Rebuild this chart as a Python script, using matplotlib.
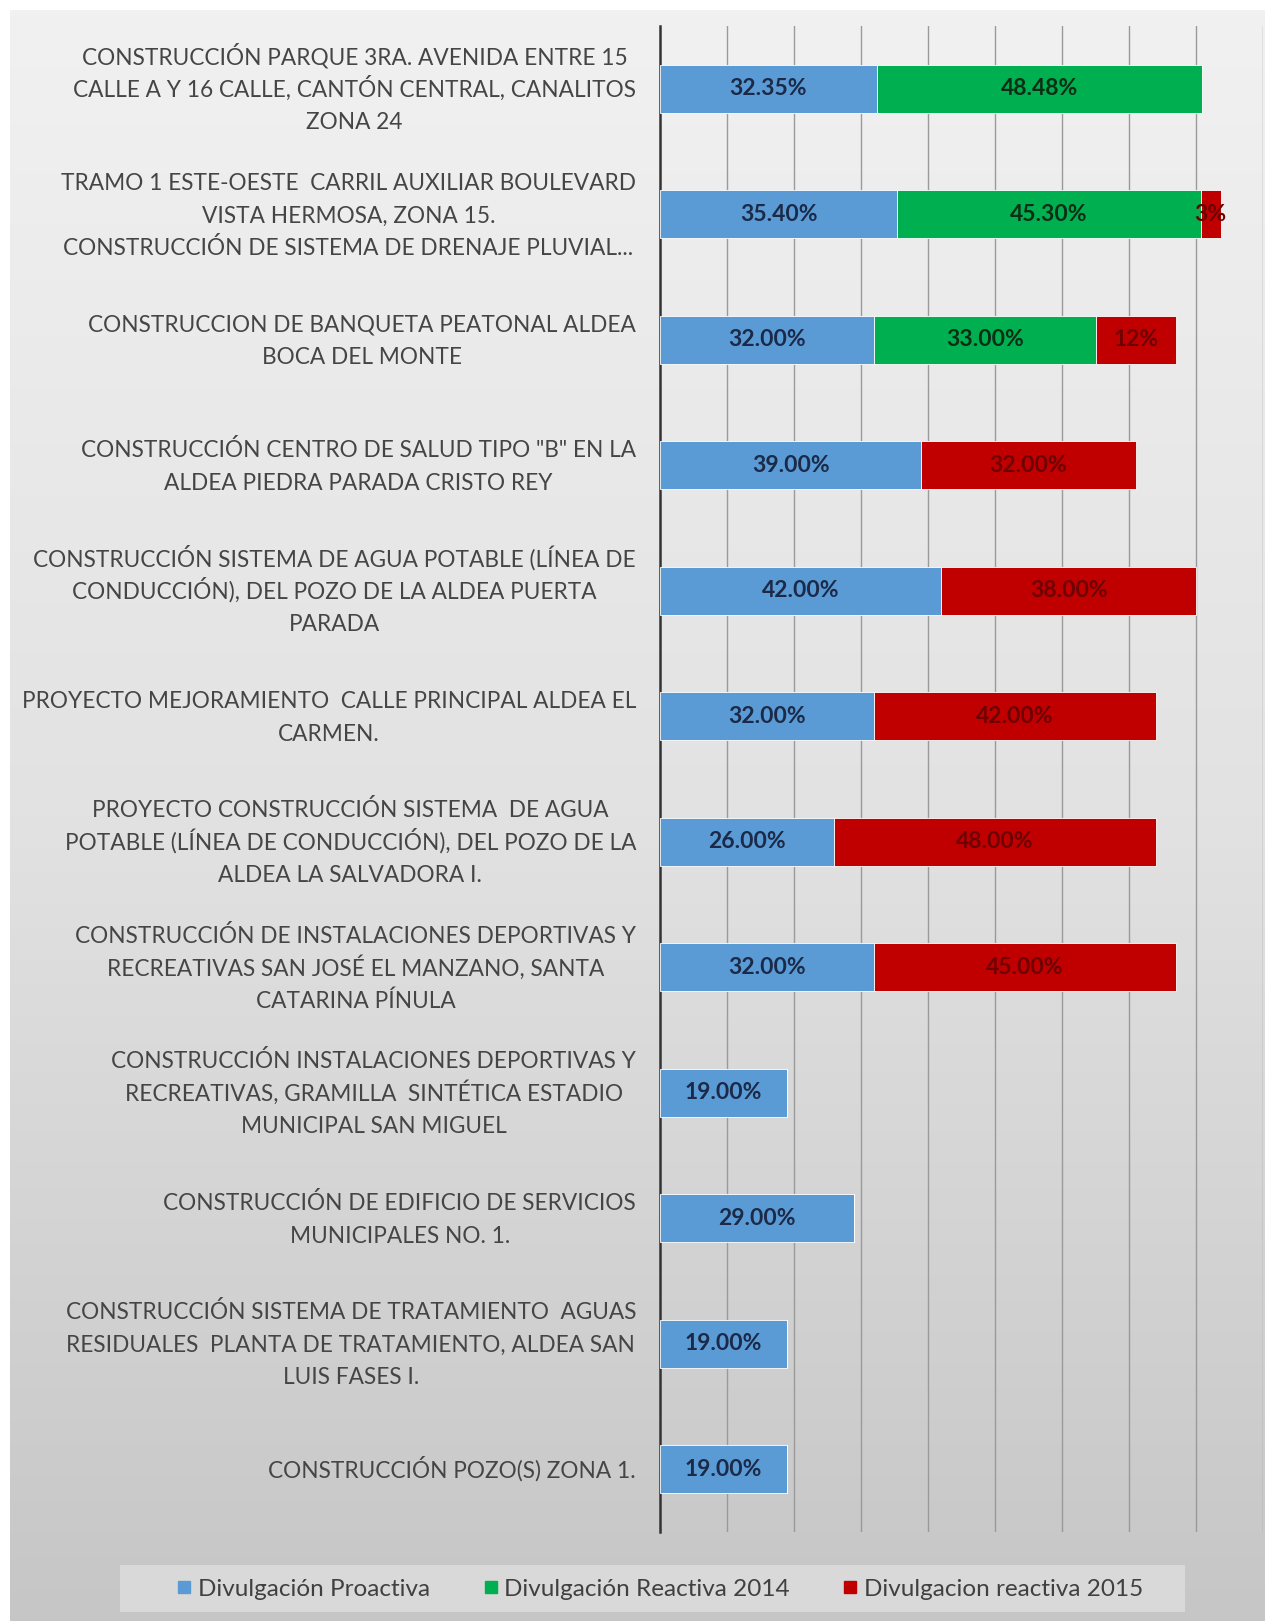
import numpy as np
import matplotlib
matplotlib.use("Agg")
import matplotlib.pyplot as plt
from matplotlib.lines import Line2D
from matplotlib.patches import Rectangle

plt.rcParams["font.family"] = ["Lato", "DejaVu Sans"]

# ── datos ─────────────────────────────────────────────────────────────
proyectos = [
    "CONSTRUCCIÓN PARQUE 3RA. AVENIDA ENTRE 15\nCALLE A Y 16 CALLE, CANTÓN CENTRAL, CANALITOS\nZONA 24",
    "TRAMO 1 ESTE-OESTE  CARRIL AUXILIAR BOULEVARD\nVISTA HERMOSA, ZONA 15.\nCONSTRUCCIÓN DE SISTEMA DE DRENAJE PLUVIAL...",
    "CONSTRUCCION DE BANQUETA PEATONAL ALDEA\nBOCA DEL MONTE",
    'CONSTRUCCIÓN CENTRO DE SALUD TIPO "B" EN LA\nALDEA PIEDRA PARADA CRISTO REY',
    "CONSTRUCCIÓN SISTEMA DE AGUA POTABLE (LÍNEA DE\nCONDUCCIÓN), DEL POZO DE LA ALDEA PUERTA\nPARADA",
    "PROYECTO MEJORAMIENTO  CALLE PRINCIPAL ALDEA EL\nCARMEN.",
    "PROYECTO CONSTRUCCIÓN SISTEMA  DE AGUA\nPOTABLE (LÍNEA DE CONDUCCIÓN), DEL POZO DE LA\nALDEA LA SALVADORA I.",
    "CONSTRUCCIÓN DE INSTALACIONES DEPORTIVAS Y\nRECREATIVAS SAN JOSÉ EL MANZANO, SANTA\nCATARINA PÍNULA",
    "CONSTRUCCIÓN INSTALACIONES DEPORTIVAS Y\nRECREATIVAS, GRAMILLA  SINTÉTICA ESTADIO\nMUNICIPAL SAN MIGUEL",
    "CONSTRUCCIÓN DE EDIFICIO DE SERVICIOS\nMUNICIPALES NO. 1.",
    "CONSTRUCCIÓN SISTEMA DE TRATAMIENTO  AGUAS\nRESIDUALES  PLANTA DE TRATAMIENTO, ALDEA SAN\nLUIS FASES I.",
    "CONSTRUCCIÓN POZO(S) ZONA 1.",
]

proactiva = [0.3235, 0.354, 0.32, 0.39, 0.42, 0.32, 0.26, 0.32, 0.19, 0.29, 0.19, 0.19]
reactiva_2014 = [0.4848, 0.453, 0.33, 0, 0, 0, 0, 0, 0, 0, 0, 0]
reactiva_2015 = [0, 0.03, 0.12, 0.32, 0.38, 0.42, 0.48, 0.45, 0, 0, 0, 0]

etiq_proactiva = ["32.35%", "35.40%", "32.00%", "39.00%", "42.00%", "32.00%",
                  "26.00%", "32.00%", "19.00%", "29.00%", "19.00%", "19.00%"]
etiq_2014 = ["48.48%", "45.30%", "33.00%", "", "", "", "", "", "", "", "", ""]
etiq_2015 = ["", "3%", "12%", "32.00%", "38.00%", "42.00%", "48.00%", "45.00%",
             "", "", "", ""]

series = ["Divulgación Proactiva", "Divulgación Reactiva 2014", "Divulgacion reactiva 2015"]
colores = ["#5B9BD5", "#00B050", "#C00000"]
col_texto = ["#1b2a48", "#0c2e16", "#6e0000"]

# ── figura ────────────────────────────────────────────────────────────
W, H = 1265, 1621
DPI = 100
fig = plt.figure(figsize=(W / DPI, H / DPI), dpi=DPI)
fig.patch.set_facecolor("white")

# fondo degradado gris
bg = fig.add_axes([10 / W, 0, 1 - 10 / W, 1 - 10 / H], zorder=-5)
grad = np.linspace(0, 1, 256).reshape(-1, 1)
bg.imshow(grad, aspect="auto", cmap=matplotlib.colors.LinearSegmentedColormap.from_list(
    "g", ["#f1f1f1", "#e2e2e2", "#c6c6c6"]), extent=[0, 1, 0, 1])
bg.axis("off")

ax = fig.add_axes([660 / W, 1 - 1532 / H, 603 / W, (1532 - 26) / H])
ax.set_facecolor("none")

y = np.arange(len(proyectos))
izq = np.zeros(len(proyectos))
for vals, etq, c, ct, nombre in zip([proactiva, reactiva_2014, reactiva_2015],
                                    [etiq_proactiva, etiq_2014, etiq_2015],
                                    colores, col_texto, series):
    bars = ax.barh(y, vals, left=izq, height=0.385, color=c, label=nombre,
                   edgecolor="white", linewidth=0.6, zorder=3)
    ax.bar_label(bars, labels=etq, label_type="center", color=ct,
                 fontsize=16.5, fontweight="bold", zorder=4)
    izq = izq + np.array(vals)

ax.set_xlim(0, 0.9)
ax.set_ylim(len(proyectos) - 0.5, -0.5)
ax.set_xticks(np.arange(0.1, 0.91, 0.1))
ax.grid(axis="x", color="#9a9a9a", linewidth=1, zorder=0)
ax.tick_params(axis="x", length=0, labelbottom=False)
ax.set_yticks(y)
ax.tick_params(axis="y", length=0, labelleft=False)
for s in ["top", "right", "bottom"]:
    ax.spines[s].set_visible(False)
ax.spines["left"].set_color("#333333")
ax.spines["left"].set_linewidth(1.8)

# etiquetas de categoría: líneas con espaciado uniforme, centradas en bloque
FS_ETQ = 16.3
PAD_PX = 24
LINEA_PX = 32.5
CAP_PX = 0.72 * FS_ETQ * DPI / 72
r = fig.canvas.get_renderer()
px2pt = 72 / DPI
for i, lab in enumerate(proyectos):
    lineas = lab.split("\n")
    anchos = []
    for ln in lineas:
        t = fig.text(0, 0, ln, fontsize=FS_ETQ)
        anchos.append(t.get_window_extent(r).width)
        t.remove()
    bw = max(anchos)
    n = len(lineas)
    for k, ln in enumerate(lineas):
        dy = (k - (n - 1) / 2) * LINEA_PX + CAP_PX / 2
        ax.annotate(ln, xy=(0, i), xycoords=("axes fraction", "data"),
                    xytext=(-(PAD_PX + bw / 2) * px2pt, -dy * px2pt),
                    textcoords="offset points", ha="center", va="baseline",
                    fontsize=FS_ETQ, color="#454545", annotation_clip=False)

# leyenda
fig.patches.append(Rectangle((120 / W, 1 - 1612 / H), (1185 - 120) / W, 47 / H,
                             transform=fig.transFigure, facecolor="#d9d9d9",
                             edgecolor="none", zorder=-1))
handles = [Line2D([], [], marker="s", linestyle="none", markersize=8.5,
                  markerfacecolor=c, markeredgecolor=c) for c in colores]
fig.legend(handles, series, loc="center", bbox_to_anchor=(660 / W, 1 - 1589 / H),
           ncol=3, frameon=False, fontsize=17.5, handlelength=0.6,
           handletextpad=0.25, columnspacing=2.2, labelcolor="#404040")

fig.savefig("out.png", dpi=DPI, facecolor=fig.get_facecolor())
